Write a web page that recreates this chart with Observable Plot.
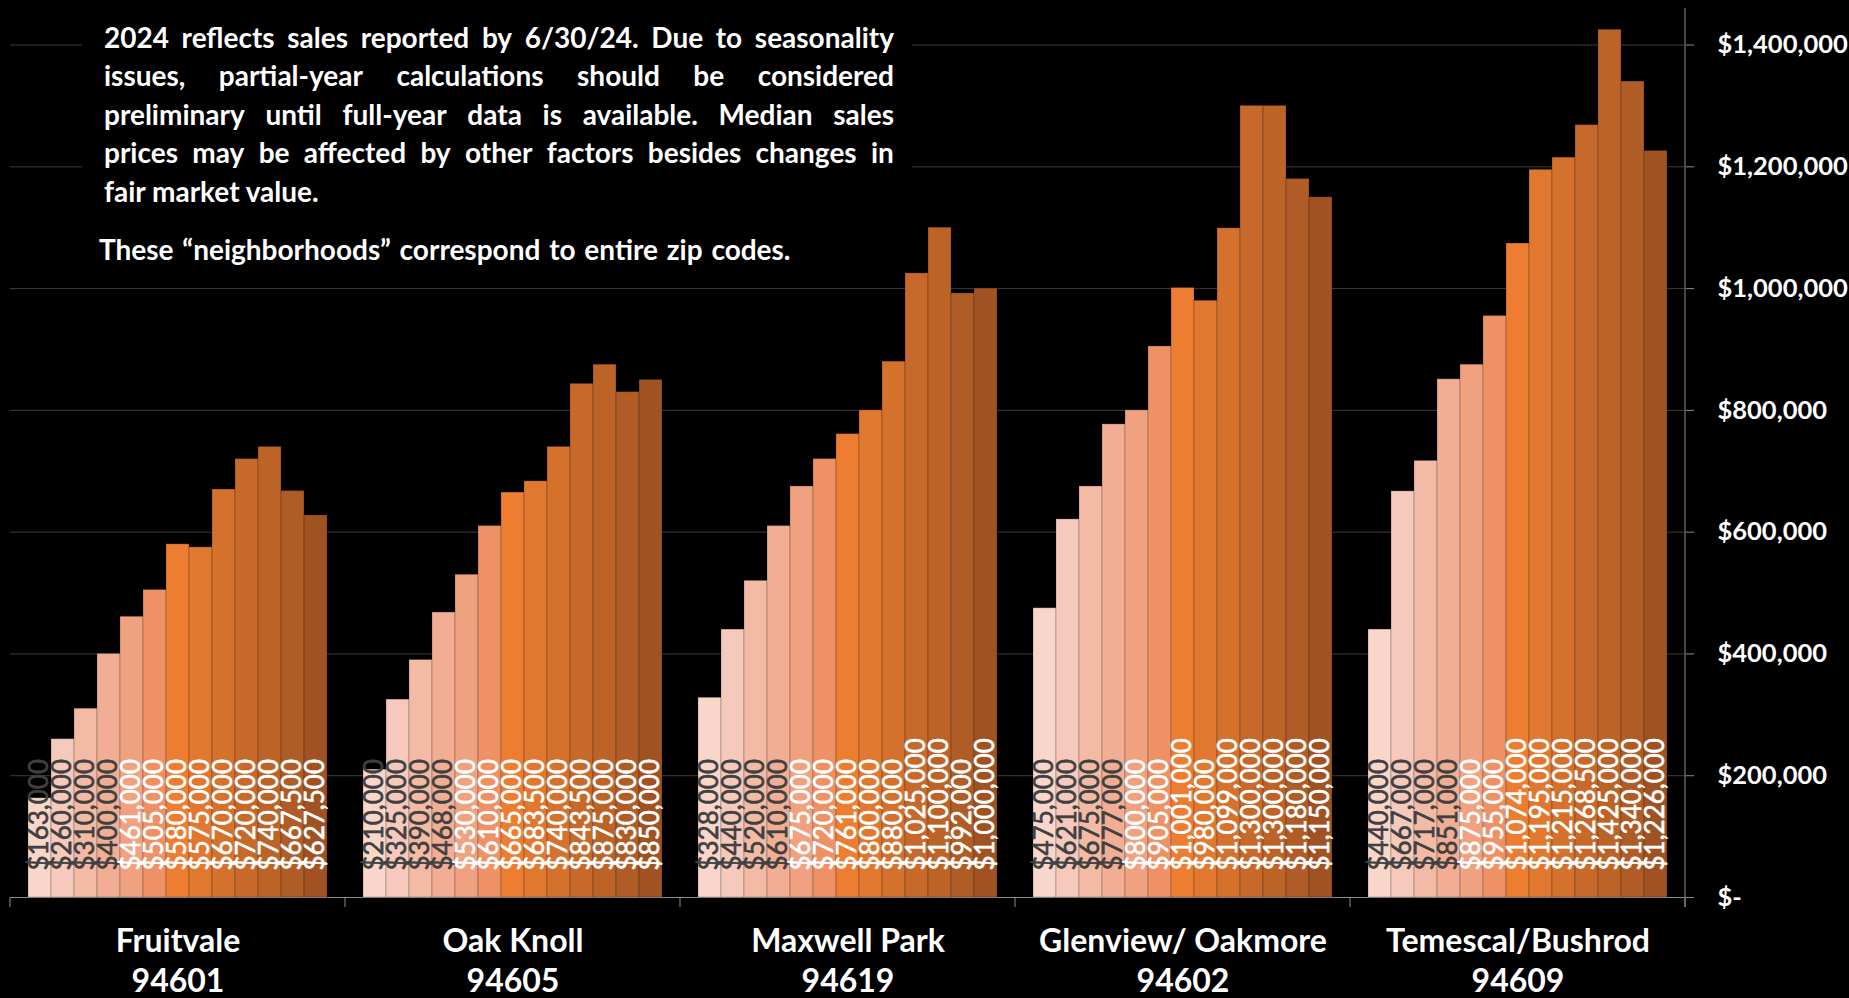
<!DOCTYPE html>
<html>
<head>
<meta charset="utf-8">
<script src="https://cdn.jsdelivr.net/npm/d3@7"></script>
<script src="https://cdn.jsdelivr.net/npm/@observablehq/plot@0.6"></script>
<style>
  html, body { margin: 0; padding: 0; background: #000; }
  #wrap { position: relative; width: 1849px; height: 998px; overflow: hidden; }
  #note {
    position: absolute; left: 82px; top: 0px; width: 830px; height: 272px;
    background: #000; color: #fff; font-family: Lato, sans-serif; font-weight: 700;
    font-size: 28px; box-sizing: border-box; padding: 18px 18px 0 22px;
  }
  #note .jl { display: flex; justify-content: space-between; height: 38.4px; line-height: 38.4px; white-space: nowrap; }
  #note .ll { height: 38.4px; line-height: 38.4px; white-space: nowrap; }
  #note .p2 { margin-top: 20px; margin-left: -5px; height: 38.4px; line-height: 38.4px; white-space: nowrap; word-spacing: 2px; }
</style>
</head>
<body>
<div id="wrap"></div>
<script>
// Median sales price by zip-code neighborhood, 2012–2024
const hoods = ["Fruitvale", "Oak Knoll", "Maxwell Park", "Glenview/ Oakmore", "Temescal/Bushrod"];
const zips = ["94601", "94605", "94619", "94602", "94609"];
const years = [2012, 2013, 2014, 2015, 2016, 2017, 2018, 2019, 2020, 2021, 2022, 2023, 2024];

const fruitvale = [163000, 260000, 310000, 400000, 461000, 505000, 580000, 575000, 670000, 720000, 740000, 667500, 627500];
const oakKnoll  = [210000, 325000, 390000, 468000, 530000, 610000, 665000, 683500, 740000, 843500, 875000, 830000, 850000];
const maxwell   = [328000, 440000, 520000, 610000, 675000, 720000, 761000, 800000, 880000, 1025000, 1100000, 992000, 1000000];
const glenview  = [475000, 621000, 675000, 777000, 800000, 905000, 1001000, 980000, 1099000, 1300000, 1300000, 1180000, 1150000];
const temescal  = [440000, 667000, 717000, 851000, 875000, 955000, 1074000, 1195000, 1215000, 1268500, 1425000, 1340000, 1226000];

const barColors = ["#F8D7CA", "#F5C9BB", "#F3BBA5", "#F1AE94", "#F0A17F", "#EE9266", "#ED7D31",
                   "#E07830", "#D4712D", "#C7692B", "#BC6328", "#AF5C26", "#A15222"];
const yTicks = [0, 200000, 400000, 600000, 800000, 1000000, 1200000, 1400000];
const yMax = 1460000;

const seriesByHood = [fruitvale, oakKnoll, maxwell, glenview, temescal];
const rows = [];
hoods.forEach((hood, h) => {
  seriesByHood[h].forEach((value, i) => rows.push({hood, year: years[i], value, i}));
});

const money = d3.format("$,");
const tickFormat = d => d === 0 ? "$-" : money(d);

const chart = Plot.plot({
  width: 1849,
  height: 998,
  marginTop: 8,
  marginBottom: 101,
  marginLeft: 9,
  marginRight: 163,
  style: {background: "#000", color: "#fff", fontFamily: "Lato, sans-serif", overflow: "visible"},
  fx: {domain: hoods, padding: 0, axis: null, label: null},
  x: {domain: years, paddingInner: 0, paddingOuter: 0.71, axis: null, label: null},
  y: {domain: [0, yMax], axis: null, label: null},
  color: {type: "ordinal", domain: years, range: barColors},
  marks: [
    Plot.gridY(yTicks.filter(d => d > 0), {stroke: "#3c3c3c", strokeOpacity: 1}),
    Plot.ruleY([0], {stroke: "#8c8c8c"}),
    Plot.barY(rows, {fx: "hood", x: "year", y: "value", fill: "year", stroke: "#000", strokeOpacity: 0.22, strokeWidth: 1}),
    // value labels, reading upward from near the baseline
    Plot.text(rows.filter(d => d.i < 4), {
      fx: "hood", x: "year", y: d => 0, dy: -27, rotate: -90, textAnchor: "start",
      text: d => money(d.value), fill: "#404040", stroke: "#404040", strokeWidth: 0.6, fontSize: 26
    }),
    Plot.text(rows.filter(d => d.i >= 4), {
      fx: "hood", x: "year", y: d => 0, dy: -27, rotate: -90, textAnchor: "start",
      text: d => money(d.value), fill: "#ffffff", stroke: "#ffffff", strokeWidth: 0.6, fontSize: 26
    }),
    Plot.axisY(yTicks, {
      anchor: "right", tickSize: 8, tickPadding: 24, tickFormat,
      fontSize: 25.5, fontWeight: "bold", fill: "#ffffff", stroke: "#8c8c8c", label: null
    }),
    // neighborhood name and zip under each group
    Plot.text(hoods, {
      fx: d => d, frameAnchor: "bottom", lineAnchor: "middle", dy: 62,
      text: (d, i) => d + "\n" + zips[i],
      fontSize: 32, fontWeight: "bold", lineHeight: 1.22, fill: "#ffffff"
    })
  ]
});

document.getElementById("wrap").appendChild(chart);

// axis line on the right and group-boundary ticks under the baseline
const fx = chart.scale("fx");
const y = chart.scale("y");
const svg = d3.select(chart);
const y0 = y.apply(0);
const edges = hoods.map(h => fx.apply(h));
edges.push(fx.apply(hoods[hoods.length - 1]) + fx.bandwidth);
const g = svg.append("g").attr("stroke", "#8c8c8c").attr("stroke-width", 1);
g.selectAll("line.edge").data(edges).join("line")
  .attr("class", "edge")
  .attr("x1", d => d).attr("x2", d => d)
  .attr("y1", y0).attr("y2", y0 + 10);
g.append("line")
  .attr("x1", edges[edges.length - 1]).attr("x2", edges[edges.length - 1])
  .attr("y1", y.apply(yMax)).attr("y2", y0 + 10);

// explanatory note over the upper-left of the plot
const noteLines = [
  "2024 reflects sales reported by 6/30/24. Due to seasonality",
  "issues, partial-year calculations should be considered",
  "preliminary until full-year data is available. Median sales",
  "prices may be affected by other factors besides changes in"
];
const lastLine = "fair market value.";
const note2 = "These \u201Cneighborhoods\u201D correspond to entire zip codes.";
const note = document.createElement("div");
note.id = "note";
noteLines.forEach(line => {
  const div = document.createElement("div");
  div.className = "jl";
  line.split(" ").forEach(w => {
    const s = document.createElement("span");
    s.textContent = w;
    div.appendChild(s);
  });
  note.appendChild(div);
});
const ll = document.createElement("div");
ll.className = "ll";
ll.textContent = lastLine;
note.appendChild(ll);
const p2 = document.createElement("div");
p2.className = "p2";
p2.textContent = note2;
note.appendChild(p2);
document.getElementById("wrap").appendChild(note);
</script>
</body>
</html>
